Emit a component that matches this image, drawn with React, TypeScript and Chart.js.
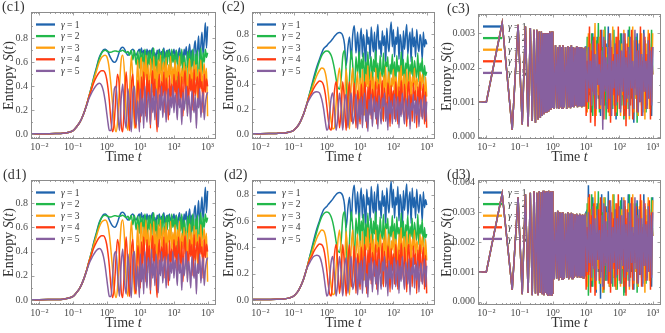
import React, { useEffect, useRef } from 'react';
import { Chart, registerables } from 'chart.js';

Chart.register(...registerables);

// ---------- time grids ----------
const TIME_A = [
  0.004, 0.01, 0.02, 0.03, 0.05, 0.07, 0.1, 0.13, 0.16, 0.2, 0.25, 0.3,
  0.35, 0.4, 0.5, 0.6, 0.7, 0.8, 0.9, 1.0,
  1.1, 1.2, 1.35, 1.5, 1.7, 1.9, 2.1, 2.4, 2.7, 3.0,
  3.4, 3.8, 4.3, 4.8, 5.4, 6.0, 6.7, 7.5, 8.4, 9.4,
  10, 10.8, 11.7, 12.6, 13.6, 14.7, 15.8, 17.1, 18.5, 20, 21.5, 23.3, 25.1, 27.1, 29.3, 31.6, 34.1, 36.8, 39.8, 42.9, 46.4, 50.1, 54.1, 58.4, 63.1, 68.1, 73.6, 79.4, 85.8, 92.6,
  100, 108, 117, 126, 136, 147, 158, 171, 185, 200, 215, 233, 251, 271, 293, 316, 341, 368, 398, 429, 464, 501, 541, 584, 631, 681, 736, 794, 858, 926,
  1000,
];

const TIME_B = [
  0.004, 0.01, 0.03, 0.06, 0.09, 0.12, 0.15, 0.18, 0.21, 0.24, 0.27, 0.3, 0.33, 0.36, 0.39, 0.42, 0.45, 0.48, 0.51, 0.54, 0.57, 0.6, 0.63, 0.66, 0.69, 0.72, 0.75, 0.78, 0.81, 0.84, 0.87, 0.9, 0.93, 0.96, 0.99,
  1.0, 1.1, 1.2, 1.3, 1.4, 1.5, 1.6, 1.7, 1.8, 1.9, 2.0, 2.2, 2.4, 2.6, 2.8, 3.0, 3.2, 3.4, 3.6, 3.8, 4.0, 4.3, 4.6, 4.9, 5.2, 5.5, 5.8, 6.1, 6.4, 6.7, 7.0, 7.4, 7.8, 8.2, 8.6, 9.0, 9.5,
  10, 10.8, 11.7, 12.6, 13.6, 14.7, 15.8, 17.1, 18.5, 20, 21.5, 23.3, 25.1, 27.1, 29.3, 31.6, 34.1, 36.8, 39.8, 42.9, 46.4, 50.1, 54.1, 58.4, 63.1, 68.1, 73.6, 79.4, 85.8, 92.6,
  100, 108, 117, 126, 136, 147, 158, 171, 185, 200, 215, 233, 251, 271, 293, 316, 341, 368, 398, 429, 464, 501, 541, 584, 631, 681, 736, 794, 858, 926,
  1000,
];

// ---------- panel c1 / d1 ----------
const C1_G1 = [
  0.003, 0.003, 0.004, 0.005, 0.007, 0.014, 0.03, 0.065, 0.1, 0.16, 0.24, 0.32,
  0.39, 0.46, 0.56, 0.64, 0.68, 0.705, 0.71, 0.70,
  0.685, 0.66, 0.63, 0.61, 0.60, 0.61, 0.64, 0.69, 0.72, 0.725,
  0.71, 0.68, 0.66, 0.67, 0.70, 0.71, 0.68, 0.66, 0.69, 0.71,
  0.67, 0.72, 0.65, 0.70, 0.68, 0.63, 0.71, 0.66, 0.70, 0.64, 0.69, 0.72, 0.65, 0.68, 0.62, 0.70, 0.67, 0.71, 0.64, 0.69, 0.66, 0.72, 0.63, 0.68, 0.70, 0.65, 0.71, 0.62, 0.69, 0.67,
  0.71, 0.64, 0.70, 0.60, 0.68, 0.72, 0.63, 0.69, 0.58, 0.71, 0.66, 0.73, 0.61, 0.68, 0.75, 0.62, 0.70, 0.57, 0.72, 0.78, 0.64, 0.70, 0.82, 0.60, 0.74, 0.85, 0.66, 0.78, 0.93, 0.72,
  0.90,
];
const C1_G2 = [
  0.003, 0.003, 0.004, 0.005, 0.007, 0.014, 0.03, 0.065, 0.1, 0.16, 0.24, 0.32,
  0.39, 0.45, 0.55, 0.63, 0.675, 0.695, 0.70, 0.695,
  0.69, 0.685, 0.685, 0.69, 0.695, 0.695, 0.69, 0.69, 0.695, 0.70,
  0.69, 0.68, 0.69, 0.66, 0.70, 0.62, 0.70, 0.58, 0.69, 0.55,
  0.70, 0.60, 0.68, 0.52, 0.71, 0.64, 0.45, 0.69, 0.58, 0.70, 0.50, 0.67, 0.72, 0.56, 0.66, 0.40, 0.70, 0.61, 0.68, 0.53, 0.71, 0.63, 0.48, 0.69, 0.58, 0.70, 0.66, 0.52, 0.71, 0.60,
  0.67, 0.55, 0.70, 0.62, 0.30, 0.68, 0.57, 0.71, 0.45, 0.66, 0.60, 0.25, 0.69, 0.55, 0.70, 0.48, 0.64, 0.71, 0.35, 0.67, 0.58, 0.70, 0.22, 0.62, 0.72, 0.50, 0.68, 0.60, 0.71, 0.64,
  0.68,
];
const C1_G3 = [
  0.003, 0.003, 0.004, 0.005, 0.007, 0.014, 0.03, 0.065, 0.1, 0.16, 0.24, 0.32,
  0.38, 0.44, 0.53, 0.60, 0.64, 0.655, 0.66, 0.65,
  0.61, 0.54, 0.40, 0.25, 0.08, 0.02, 0.10, 0.40, 0.62, 0.66,
  0.50, 0.15, 0.03, 0.35, 0.65, 0.45, 0.05, 0.30, 0.62, 0.20,
  0.55, 0.64, 0.32, 0.60, 0.45, 0.66, 0.38, 0.58, 0.22, 0.63, 0.50, 0.35, 0.65, 0.42, 0.57, 0.30, 0.62, 0.48, 0.66, 0.36, 0.55, 0.60, 0.40, 0.64, 0.33, 0.58, 0.47, 0.65, 0.38, 0.56,
  0.45, 0.62, 0.35, 0.58, 0.48, 0.65, 0.30, 0.55, 0.42, 0.60, 0.38, 0.57, 0.18, 0.52, 0.63, 0.40, 0.56, 0.34, 0.61, 0.45, 0.58, 0.28, 0.54, 0.47, 0.62, 0.36, 0.50, 0.59, 0.42, 0.55,
  0.15,
];
const C1_G4 = [
  0.003, 0.003, 0.004, 0.005, 0.007, 0.014, 0.03, 0.065, 0.1, 0.16, 0.24, 0.315,
  0.37, 0.42, 0.48, 0.515, 0.53, 0.53, 0.51, 0.46,
  0.38, 0.28, 0.10, 0.02, 0.12, 0.35, 0.50, 0.38, 0.08, 0.02,
  0.30, 0.52, 0.25, 0.03, 0.40, 0.50, 0.15, 0.05, 0.45, 0.30,
  0.10, 0.48, 0.25, 0.52, 0.35, 0.15, 0.50, 0.30, 0.45, 0.05, 0.40, 0.53, 0.28, 0.46, 0.20, 0.02, 0.38, 0.50, 0.25, 0.44, 0.32, 0.52, 0.18, 0.47, 0.36, 0.12, 0.49, 0.30, 0.42, 0.26,
  0.50, 0.34, 0.45, 0.22, 0.52, 0.38, 0.28, 0.48, 0.15, 0.44, 0.53, 0.30, 0.40, 0.25, 0.50, 0.36, 0.46, 0.20, 0.54, 0.32, 0.42, 0.48, 0.27, 0.52, 0.38, 0.44, 0.18, 0.50, 0.35, 0.46,
  0.40,
];
const C1_G5 = [
  0.003, 0.003, 0.004, 0.005, 0.007, 0.014, 0.03, 0.065, 0.1, 0.16, 0.235, 0.30,
  0.34, 0.37, 0.41, 0.425, 0.41, 0.36, 0.28, 0.18,
  0.09, 0.03, 0.03, 0.20, 0.38, 0.40, 0.22, 0.03, 0.30, 0.42,
  0.15, 0.05, 0.38, 0.20, 0.02, 0.35, 0.40, 0.08, 0.28, 0.02,
  0.38, 0.15, 0.30, 0.05, 0.40, 0.22, 0.10, 0.35, 0.28, 0.08, 0.42, 0.18, 0.32, 0.12, 0.38, 0.25, 0.06, 0.33, 0.20, 0.40, 0.14, 0.29, 0.36, 0.10, 0.27, 0.38, 0.16, 0.31, 0.22, 0.40,
  0.18, 0.34, 0.25, 0.12, 0.38, 0.22, 0.30, 0.08, 0.35, 0.20, 0.28, 0.40, 0.15, 0.32, 0.24, 0.10, 0.36, 0.26, 0.18, 0.33, 0.05, 0.30, 0.22, 0.38, 0.14, 0.28, 0.35, 0.12, 0.25, 0.32,
  0.35,
];

// ---------- panel c2 / d2 ----------
const C2_G1 = [
  0.003, 0.003, 0.004, 0.005, 0.007, 0.014, 0.03, 0.06, 0.1, 0.16, 0.24, 0.32,
  0.39, 0.45, 0.54, 0.60, 0.65, 0.685, 0.70, 0.71,
  0.725, 0.735, 0.75, 0.765, 0.785, 0.80, 0.81, 0.815, 0.81, 0.79,
  0.72, 0.55, 0.70, 0.78, 0.60, 0.80, 0.87, 0.65, 0.82, 0.58,
  0.76, 0.85, 0.62, 0.80, 0.70, 0.55, 0.84, 0.72, 0.78, 0.60, 0.86, 0.74, 0.66, 0.82, 0.58, 0.78, 0.88, 0.68, 0.75, 0.62, 0.83, 0.71, 0.79, 0.56, 0.85, 0.73, 0.66, 0.81, 0.90, 0.70,
  0.84, 0.62, 0.78, 0.72, 0.86, 0.60, 0.80, 0.74, 0.55, 0.83, 0.68, 0.79, 0.88, 0.64, 0.76, 0.82, 0.58, 0.85, 0.70, 0.78, 0.62, 0.84, 0.72, 0.66, 0.80, 0.75, 0.60, 0.82, 0.70, 0.76,
  0.72,
];
const C2_G2 = [
  0.003, 0.003, 0.004, 0.005, 0.007, 0.014, 0.03, 0.06, 0.1, 0.16, 0.24, 0.32,
  0.38, 0.43, 0.52, 0.585, 0.63, 0.653, 0.665, 0.667,
  0.665, 0.655, 0.63, 0.59, 0.52, 0.44, 0.38, 0.36, 0.45, 0.62,
  0.67, 0.50, 0.15, 0.45, 0.67, 0.55, 0.30, 0.62, 0.48, 0.66,
  0.40, 0.60, 0.52, 0.65, 0.35, 0.58, 0.47, 0.66, 0.42, 0.55, 0.62, 0.38, 0.60, 0.50, 0.67, 0.44, 0.57, 0.36, 0.63, 0.52, 0.46, 0.65, 0.40, 0.58, 0.54, 0.62, 0.33, 0.56, 0.48, 0.64,
  0.45, 0.58, 0.38, 0.63, 0.50, 0.55, 0.42, 0.66, 0.47, 0.60, 0.35, 0.57, 0.52, 0.64, 0.40, 0.56, 0.48, 0.62, 0.37, 0.59, 0.51, 0.45, 0.65, 0.42, 0.57, 0.50, 0.61, 0.39, 0.55, 0.47,
  0.50,
];
const C2_G3 = [
  0.003, 0.003, 0.004, 0.005, 0.007, 0.014, 0.03, 0.06, 0.1, 0.16, 0.24, 0.31,
  0.35, 0.40, 0.47, 0.51, 0.53, 0.525, 0.49, 0.42,
  0.33, 0.23, 0.10, 0.04, 0.05, 0.25, 0.42, 0.53, 0.35, 0.05,
  0.25, 0.52, 0.30, 0.04, 0.40, 0.53, 0.15, 0.35, 0.50, 0.10,
  0.45, 0.25, 0.52, 0.32, 0.15, 0.48, 0.38, 0.55, 0.22, 0.42, 0.50, 0.30, 0.46, 0.18, 0.53, 0.36, 0.44, 0.27, 0.50, 0.40, 0.12, 0.47, 0.34, 0.54, 0.28, 0.43, 0.50, 0.20, 0.45, 0.38,
  0.52, 0.30, 0.46, 0.40, 0.22, 0.50, 0.36, 0.55, 0.28, 0.44, 0.48, 0.18, 0.52, 0.34, 0.42, 0.50, 0.26, 0.46, 0.38, 0.53, 0.30, 0.45, 0.40, 0.24, 0.50, 0.35, 0.48, 0.42, 0.28, 0.46,
  0.30,
];
const C2_G4 = [
  0.003, 0.003, 0.004, 0.005, 0.007, 0.014, 0.03, 0.06, 0.1, 0.16, 0.24, 0.30,
  0.33, 0.365, 0.405, 0.425, 0.42, 0.39, 0.32, 0.22,
  0.12, 0.05, 0.03, 0.15, 0.35, 0.42, 0.30, 0.05, 0.20, 0.42,
  0.25, 0.03, 0.30, 0.42, 0.10, 0.20, 0.41, 0.05, 0.35, 0.22,
  0.08, 0.40, 0.28, 0.15, 0.42, 0.33, 0.05, 0.38, 0.22, 0.43, 0.12, 0.36, 0.30, 0.18, 0.42, 0.08, 0.34, 0.40, 0.20, 0.28, 0.43, 0.10, 0.37, 0.25, 0.14, 0.41, 0.32, 0.06, 0.39, 0.22,
  0.35, 0.12, 0.42, 0.28, 0.08, 0.38, 0.20, 0.43, 0.30, 0.15, 0.40, 0.25, 0.06, 0.36, 0.42, 0.18, 0.32, 0.10, 0.41, 0.27, 0.35, 0.05, 0.38, 0.22, 0.42, 0.14, 0.30, 0.40, 0.08, 0.34,
  0.05,
];
const C2_G5 = [
  0.003, 0.003, 0.004, 0.005, 0.007, 0.014, 0.03, 0.06, 0.1, 0.16, 0.24, 0.28,
  0.31, 0.33, 0.34, 0.33, 0.28, 0.20, 0.10, 0.03,
  0.05, 0.15, 0.29, 0.33, 0.18, 0.03, 0.12, 0.33, 0.20, 0.03,
  0.25, 0.32, 0.05, 0.22, 0.33, 0.08, 0.15, 0.32, 0.04, 0.28,
  0.12, 0.30, 0.05, 0.24, 0.33, 0.10, 0.20, 0.02, 0.28, 0.15, 0.32, 0.06, 0.22, 0.30, 0.12, 0.26, 0.04, 0.31, 0.18, 0.08, 0.29, 0.22, 0.33, 0.10, 0.25, 0.03, 0.30, 0.16, 0.27, 0.08,
  0.24, 0.32, 0.10, 0.20, 0.30, 0.05, 0.26, 0.14, 0.33, 0.18, 0.08, 0.29, 0.22, 0.12, 0.31, 0.04, 0.25, 0.19, 0.32, 0.09, 0.27, 0.15, 0.30, 0.06, 0.23, 0.28, 0.12, 0.20, 0.31, 0.10,
  0.26,
];

// ---------- panel c3 (values in units of 0.001) ----------
const C3_EARLY = [
  1.0, 1.0, 3.3, 0.2, 3.25, 0.35, 3.2, 0.3, 3.15, 0.45, 3.1, 0.4, 3.1, 0.5, 3.05, 0.55, 3.05, 0.6, 3.0, 0.65, 3.0, 0.7, 3.0, 0.7, 3.0, 0.75, 3.0, 0.8, 3.05, 0.8, 3.0, 0.85, 3.05, 0.85, 3.05,
];
const C3_MID = [
  2.7, 0.8, 2.65, 0.82, 2.6, 0.8, 2.65, 0.85, 2.6, 0.82, 2.65, 0.85, 2.6, 0.8, 2.62, 0.85, 2.6, 0.82, 2.65, 0.88, 2.6, 0.85, 2.58, 0.9, 2.62, 0.85, 2.6, 0.88, 2.55, 0.9, 2.6, 0.85, 2.58, 0.9, 2.55, 0.88, 2.6,
];
const C3_LATE_G1 = [
  2.6, 0.9, 2.8, 1.2, 2.4, 0.7, 3.0, 1.5, 2.2, 0.8, 2.9, 1.1, 2.5, 0.6, 3.1, 1.4, 2.0, 0.9, 2.7, 1.3, 3.2, 0.7, 2.3, 1.6, 2.9, 1.0, 2.4, 0.5, 2.8, 1.2,
  2.1, 0.8, 3.0, 1.4, 2.6, 0.6, 2.2, 1.7, 3.1, 0.9, 2.5, 1.1, 2.8, 0.4, 2.3, 1.5, 3.0, 0.8, 2.7, 1.2, 2.0, 0.7, 3.1, 1.3, 2.5, 0.9, 2.9, 1.6, 2.2, 0.6, 2.6,
];
const C3_LATE_G2 = [
  1.1, 2.9, 0.8, 2.5, 1.4, 3.0, 0.6, 2.2, 1.0, 2.8, 1.3, 3.3, 0.7, 2.1, 1.6, 2.6, 0.9, 3.2, 0.5, 2.4, 1.2, 2.9, 1.5, 2.0, 0.8, 3.1, 1.1, 2.7, 0.6, 2.3,
  1.4, 3.0, 0.9, 2.4, 0.5, 2.8, 1.3, 2.2, 0.8, 3.2, 1.7, 2.6, 0.6, 2.1, 1.1, 2.9, 0.4, 2.5, 1.4, 3.0, 0.9, 2.3, 1.2, 2.8, 0.7, 2.0, 1.5, 2.7, 0.8, 3.1, 1.8,
];
const C3_LATE_G3 = [
  2.4, 0.7, 3.0, 1.3, 2.7, 0.9, 2.1, 1.6, 3.3, 0.6, 2.5, 1.2, 2.9, 0.8, 2.2, 0.5, 3.1, 1.4, 2.6, 1.0, 2.0, 0.6, 2.8, 1.3, 3.2, 0.9, 2.4, 0.7, 2.9, 1.5,
  2.3, 0.6, 2.7, 1.2, 3.1, 0.8, 2.5, 1.0, 2.9, 0.5, 2.2, 1.4, 3.2, 0.7, 2.6, 1.1, 2.0, 0.6, 2.8, 1.3, 3.0, 0.9, 2.4, 0.5, 2.7, 1.2, 3.1, 0.8, 2.3, 1.0, 3.0,
];
const C3_LATE_G4 = [
  0.6, 2.2, 1.0, 3.2, 0.4, 2.5, 1.3, 2.9, 0.3, 2.0, 1.5, 2.7, 0.8, 3.1, 1.1, 2.3, 0.5, 2.8, 1.4, 2.1, 0.7, 3.0, 0.4, 2.6, 1.2, 2.4, 0.6, 2.9, 1.0, 3.2,
  0.8, 2.5, 1.5, 2.2, 0.6, 3.0, 0.3, 2.7, 1.2, 2.4, 0.9, 3.1, 0.5, 2.0, 1.4, 2.8, 0.7, 2.5, 1.0, 3.2, 0.6, 2.2, 1.3, 2.9, 0.8, 2.4, 1.1, 3.0, 0.5, 2.6, 1.8,
];
const C3_LATE_G5 = [
  2.0, 1.0, 2.6, 1.4, 2.2, 0.9, 2.8, 1.2, 2.4, 0.8, 2.7, 1.5, 2.1, 0.9, 2.5, 0.2, 2.9, 1.3, 2.3, 0.8, 2.6, 1.1, 3.0, 0.6, 2.2, 1.4, 2.7, 0.9, 2.4, 1.2,
  2.8, 0.7, 2.5, 1.3, 3.0, 0.9, 2.3, 1.1, 2.6, 0.6, 2.9, 1.4, 2.2, 0.8, 3.1, 1.2, 2.5, 0.7, 2.7, 1.0, 2.4, 0.6, 3.0, 1.3, 2.2, 0.8, 2.8, 1.1, 2.5, 0.9, 2.6,
];

// ---------- panel d3 (values in units of 0.001) ----------
const D3_EARLY = [
  1.0, 1.0, 3.62, 0.4, 3.5, 0.25, 3.6, 0.3, 3.65, 0.22, 3.7, 0.28, 3.65, 0.22, 3.7, 0.3, 3.68, 0.25, 3.72, 0.22, 3.65, 0.3, 3.7, 0.25, 3.68, 0.22, 3.72, 0.3, 3.65, 0.25, 3.7, 0.22, 3.68, 0.28, 3.7,
];
const D3_MID = [
  3.05, 0.75, 3.0, 0.78, 3.05, 0.72, 3.0, 0.8, 2.98, 0.75, 3.0, 0.78, 2.95, 0.8, 3.0, 0.75, 2.95, 0.82, 2.98, 0.78, 2.95, 0.8, 2.92, 0.85, 2.95, 0.8, 2.9, 0.85, 2.95, 0.82, 2.9, 0.85, 2.92, 0.8, 2.9, 0.85, 2.95,
];
const D3_LATE_G1 = [
  3.0, 0.6, 3.9, 1.2, 2.8, 0.5, 3.5, 1.5, 2.4, 0.3, 3.3, 1.0, 2.9, 0.1, 3.6, 1.4, 2.6, 0.7, 3.2, 1.1, 3.7, 0.5, 2.7, 1.6, 3.4, 0.8, 2.5, 0.4, 3.1, 1.3,
  2.8, 0.6, 3.5, 1.2, 3.0, 0.3, 2.6, 1.8, 3.6, 0.7, 2.9, 1.0, 3.3, 0.4, 2.7, 1.5, 3.4, 0.5, 3.1, 1.1, 2.4, 0.6, 3.6, 1.2, 2.9, 0.8, 3.3, 1.4, 2.6, 0.5, 3.5,
];
const D3_LATE_G2 = [
  0.9, 3.3, 0.2, 3.0, 1.4, 3.6, 0.5, 2.6, 0.8, 3.2, 1.2, 3.7, 0.6, 2.4, 1.6, 3.0, 0.3, 3.5, 0.7, 2.8, 1.3, 3.3, 1.0, 2.3, 0.5, 3.6, 1.1, 3.1, 0.4, 2.7,
  1.5, 3.4, 0.6, 2.8, 0.2, 3.2, 1.2, 2.5, 0.7, 3.6, 1.6, 3.0, 0.5, 2.4, 1.0, 3.3, 0.3, 2.9, 1.3, 3.4, 0.8, 2.6, 1.1, 3.2, 0.6, 2.3, 1.4, 3.1, 0.7, 3.5, 2.2,
];
const D3_LATE_G3 = [
  2.8, 0.5, 3.5, 1.0, 3.1, 0.7, 2.5, 1.5, 3.7, 0.4, 2.9, 1.1, 3.3, 0.6, 2.6, 0.3, 3.5, 1.3, 3.0, 0.9, 2.4, 0.5, 3.2, 1.2, 3.6, 0.8, 2.7, 0.4, 3.3, 1.4,
  2.6, 0.5, 3.1, 1.1, 3.5, 0.7, 2.8, 0.9, 3.3, 0.4, 2.5, 1.3, 3.6, 0.6, 3.0, 1.0, 2.4, 0.5, 3.2, 1.2, 3.4, 0.8, 2.7, 0.3, 3.1, 1.1, 3.5, 0.7, 2.6, 0.9, 3.4,
];
const D3_LATE_G4 = [
  0.4, 2.5, 0.9, 3.6, 0.3, 2.9, 1.2, 3.3, 0.2, 2.3, 1.4, 3.1, 0.7, 3.5, 1.0, 2.6, 0.4, 3.2, 1.3, 2.4, 0.6, 3.4, 0.3, 3.0, 1.1, 2.8, 0.5, 3.3, 0.9, 3.6,
  0.7, 2.9, 1.4, 2.5, 0.5, 3.4, 0.2, 3.1, 1.1, 2.7, 0.8, 3.5, 0.4, 2.3, 1.3, 3.2, 0.6, 2.8, 0.9, 3.6, 0.5, 2.5, 1.2, 3.3, 0.7, 2.7, 1.0, 3.4, 0.4, 3.0, 2.2,
];
const D3_LATE_G5 = [
  2.3, 1.0, 3.0, 1.3, 2.6, 0.8, 3.2, 1.1, 2.8, 0.7, 3.1, 1.4, 2.4, 0.8, 2.9, 0.5, 3.3, 1.2, 2.7, 0.7, 3.0, 1.0, 3.4, 0.6, 2.5, 1.3, 3.1, 0.8, 2.8, 1.1,
  3.2, 0.6, 2.9, 1.2, 3.4, 0.8, 2.6, 1.0, 3.0, 0.5, 3.3, 1.3, 2.5, 0.7, 3.5, 1.1, 2.9, 0.6, 3.1, 0.9, 2.8, 0.5, 3.4, 1.2, 2.6, 0.7, 3.2, 1.0, 2.9, 0.8, 3.0,
];

// ---------- labels / ticks ----------
const SERIES_COLORS = ['#1f64ad', '#22b84b', '#ffa00f', '#ff3b12', '#87609f'];
const GAMMA_VALUES = ['1', '2', '3', '4', '5'];
const X_TICKS = [0.01, 0.1, 1, 10, 100, 1000];
const X_TICK_LABELS = ['10⁻²', '10⁻¹', '10⁰', '10¹', '10²', '10³'];
const Y_TICKS_S = [0, 0.2, 0.4, 0.6, 0.8];
const Y_LABELS_S = ['0.0', '0.2', '0.4', '0.6', '0.8'];
const Y_MINOR_S = [0.1, 0.3, 0.5, 0.7, 0.9];
const Y_TICKS_C3 = [0, 1, 2, 3];
const Y_LABELS_C3 = ['0.000', '0.001', '0.002', '0.003'];
const Y_TICKS_D3 = [0, 1, 2, 3, 4];
const Y_LABELS_D3 = ['0.000', '0.001', '0.002', '0.003', '0.004'];
const Y_MINOR_M = [0.5, 1.5, 2.5, 3.5];

const FONT = '"Liberation Serif", "DejaVu Serif", serif';
const FRAME_COLOR = '#8c8c8c';
const TEXT_COLOR = '#333333';
const TICK_COLOR = '#4a4a4a';
const W = 665;
const H = 333;
const YW = 28;
const XH = 20;

type Frame = { l: number; t: number; r: number; b: number };
type Panel = {
  id: string;
  tag: string;
  tagX: number;
  yTitleX: number;
  time: number[];
  series: number[][];
  yMin: number;
  yMax: number;
  yTicks: number[];
  yLabels: string[];
  yMinor: number[];
  frame: Frame;
  smooth: boolean;
};

const PANELS: Panel[] = [
  { id: 'c1', tag: '(c1)', tagX: 2, yTitleX: 9, time: TIME_A, series: [C1_G1, C1_G2, C1_G3, C1_G4, C1_G5], yMin: -0.04, yMax: 1.02, yTicks: Y_TICKS_S, yLabels: Y_LABELS_S, yMinor: Y_MINOR_S, frame: { l: 31, t: 12, r: 216, b: 139 }, smooth: true },
  { id: 'c2', tag: '(c2)', tagX: 222, yTitleX: 229, time: TIME_A, series: [C2_G1, C2_G2, C2_G3, C2_G4, C2_G5], yMin: -0.04, yMax: 0.98, yTicks: Y_TICKS_S, yLabels: Y_LABELS_S, yMinor: Y_MINOR_S, frame: { l: 252, t: 12, r: 435, b: 139 }, smooth: true },
  { id: 'c3', tag: '(c3)', tagX: 447, yTitleX: 447, time: TIME_B, series: [C3_EARLY.concat(C3_MID, C3_LATE_G1), C3_EARLY.concat(C3_MID, C3_LATE_G2), C3_EARLY.concat(C3_MID, C3_LATE_G3), C3_EARLY.concat(C3_MID, C3_LATE_G4), C3_EARLY.concat(C3_MID, C3_LATE_G5)], yMin: -0.07, yMax: 3.56, yTicks: Y_TICKS_C3, yLabels: Y_LABELS_C3, yMinor: Y_MINOR_M, frame: { l: 478, t: 14, r: 661, b: 139 }, smooth: false },
  { id: 'd1', tag: '(d1)', tagX: 3, yTitleX: 9, time: TIME_A, series: [C1_G1, C1_G2, C1_G3, C1_G4, C1_G5], yMin: -0.041, yMax: 0.99, yTicks: Y_TICKS_S, yLabels: Y_LABELS_S, yMinor: Y_MINOR_S, frame: { l: 31, t: 180, r: 216, b: 305 }, smooth: true },
  { id: 'd2', tag: '(d2)', tagX: 224, yTitleX: 229, time: TIME_A, series: [C2_G1, C2_G2, C2_G3, C2_G4, C2_G5], yMin: -0.038, yMax: 0.91, yTicks: Y_TICKS_S, yLabels: Y_LABELS_S, yMinor: Y_MINOR_S, frame: { l: 252, t: 180, r: 435, b: 305 }, smooth: true },
  { id: 'd3', tag: '(d3)', tagX: 447, yTitleX: 447, time: TIME_B, series: [D3_EARLY.concat(D3_MID, D3_LATE_G1), D3_EARLY.concat(D3_MID, D3_LATE_G2), D3_EARLY.concat(D3_MID, D3_LATE_G3), D3_EARLY.concat(D3_MID, D3_LATE_G4), D3_EARLY.concat(D3_MID, D3_LATE_G5)], yMin: -0.11, yMax: 4.08, yTicks: Y_TICKS_D3, yLabels: Y_LABELS_D3, yMinor: Y_MINOR_M, frame: { l: 478, t: 180, r: 661, b: 305 }, smooth: false },
];

type Part = [string, boolean];

function drawParts(ctx: CanvasRenderingContext2D, parts: Part[], x: number, y: number, size: number, align: 'center' | 'left') {
  const fonts = parts.map(([, it]) => `${it ? 'italic ' : ''}${size}px ${FONT}`);
  let total = 0;
  const widths = parts.map(([t], i) => {
    ctx.font = fonts[i];
    const w = ctx.measureText(t).width;
    total += w;
    return w;
  });
  let cx = align === 'center' ? x - total / 2 : x;
  ctx.textAlign = 'left';
  parts.forEach(([t], i) => {
    ctx.font = fonts[i];
    ctx.fillText(t, cx, y);
    cx += widths[i];
  });
}

function decorPlugin(p: Panel) {
  return {
    id: 'decor_' + p.id,
    beforeDatasetsDraw(chart: any) {
      const ctx: CanvasRenderingContext2D = chart.ctx;
      const ca = chart.chartArea;
      ctx.save();
      GAMMA_VALUES.forEach((g, i) => {
        const y = ca.top + 12.5 + i * 11.6;
        ctx.strokeStyle = SERIES_COLORS[i];
        ctx.lineWidth = 2.3;
        ctx.beginPath();
        ctx.moveTo(ca.left + 5, y);
        ctx.lineTo(ca.left + 24, y);
        ctx.stroke();
        ctx.fillStyle = TEXT_COLOR;
        ctx.textBaseline = 'middle';
        drawParts(ctx, [['γ', true], [' = ' + g, false]], ca.left + 30, y + 0.5, 9.5, 'left');
      });
      ctx.restore();
    },
    afterDraw(chart: any) {
      const ctx: CanvasRenderingContext2D = chart.ctx;
      const ca = chart.chartArea;
      const xs = chart.scales.x;
      const ys = chart.scales.y;
      ctx.save();
      ctx.strokeStyle = FRAME_COLOR;
      ctx.lineWidth = 1;
      ctx.strokeRect(ca.left + 0.5, ca.top + 0.5, ca.right - ca.left - 1, ca.bottom - ca.top - 1);
      const tick = (x1: number, y1: number, x2: number, y2: number) => {
        ctx.beginPath();
        ctx.moveTo(x1, y1);
        ctx.lineTo(x2, y2);
        ctx.stroke();
      };
      ctx.lineWidth = 0.8;
      X_TICKS.forEach((v) => {
        const px = Math.round(xs.getPixelForValue(v)) + 0.5;
        tick(px, ca.bottom, px, ca.bottom - 3.5);
        tick(px, ca.top, px, ca.top + 3.5);
      });
      for (let k = -3; k <= 3; k++) {
        for (let m = 2; m <= 9; m++) {
          const v = m * Math.pow(10, k);
          if (v <= xs.min || v >= xs.max) continue;
          const px = Math.round(xs.getPixelForValue(v)) + 0.5;
          tick(px, ca.bottom, px, ca.bottom - 2);
          tick(px, ca.top, px, ca.top + 2);
        }
      }
      p.yTicks.forEach((v) => {
        const py = Math.round(ys.getPixelForValue(v)) + 0.5;
        tick(ca.left, py, ca.left + 3.5, py);
        tick(ca.right, py, ca.right - 3.5, py);
      });
      p.yMinor.forEach((v) => {
        if (v <= p.yMin || v >= p.yMax) return;
        const py = Math.round(ys.getPixelForValue(v)) + 0.5;
        tick(ca.left, py, ca.left + 2, py);
        tick(ca.right, py, ca.right - 2, py);
      });
      ctx.fillStyle = TEXT_COLOR;
      ctx.textBaseline = 'alphabetic';
      drawParts(ctx, [['Time ', false], ['t', true]], (ca.left + ca.right) / 2, ca.bottom + 22, 14, 'center');
      ctx.save();
      ctx.translate(p.yTitleX, (ca.top + ca.bottom) / 2);
      ctx.rotate(-Math.PI / 2);
      ctx.textBaseline = 'middle';
      drawParts(ctx, [['Entropy ', false], ['S', true], ['(', false], ['t', true], [')', false]], 0, 0, 14, 'center');
      ctx.restore();
      ctx.textBaseline = 'alphabetic';
      drawParts(ctx, [[p.tag, false]], p.tagX, ca.top - 1, 14, 'left');
      ctx.restore();
    },
  };
}

function buildConfig(p: Panel): any {
  const datasets = p.series.map((vals, i) => ({
    label: 'γ = ' + GAMMA_VALUES[i],
    data: vals.map((v, k) => ({ x: p.time[k], y: v })),
    borderColor: SERIES_COLORS[i],
    backgroundColor: SERIES_COLORS[i],
    borderWidth: 1.5,
    pointRadius: 0,
    fill: false,
    cubicInterpolationMode: p.smooth ? 'monotone' : 'default',
    tension: 0,
    order: 4 - i,
  }));
  const f = p.frame;
  return {
    type: 'line',
    data: { datasets },
    options: {
      responsive: false,
      animation: false,
      devicePixelRatio: 1,
      events: [],
      layout: {
        padding: { left: f.l - YW, top: f.t, right: W - f.r, bottom: H - f.b - XH },
      },
      plugins: { legend: { display: false }, tooltip: { enabled: false }, title: { display: false } },
      scales: {
        x: {
          type: 'logarithmic',
          min: Math.pow(10, -2.25),
          max: Math.pow(10, 3.25),
          afterBuildTicks: (s: any) => {
            s.ticks = X_TICKS.map((v) => ({ value: v }));
          },
          afterFit: (s: any) => {
            s.height = XH;
          },
          ticks: {
            autoSkip: false,
            maxRotation: 0,
            padding: 2,
            color: TICK_COLOR,
            font: { family: FONT, size: 10 },
            callback: (_v: any, idx: number) => X_TICK_LABELS[idx],
          },
          grid: { display: false, drawTicks: false },
          border: { display: false },
        },
        y: {
          type: 'linear',
          min: p.yMin,
          max: p.yMax,
          afterBuildTicks: (s: any) => {
            s.ticks = p.yTicks.map((v) => ({ value: v }));
          },
          afterFit: (s: any) => {
            s.width = YW;
          },
          ticks: {
            autoSkip: false,
            padding: 3,
            color: TICK_COLOR,
            font: { family: FONT, size: 10 },
            callback: (_v: any, idx: number) => p.yLabels[idx],
          },
          grid: { display: false, drawTicks: false },
          border: { display: false },
        },
      },
    },
    plugins: [decorPlugin(p)],
  };
}

function PanelChart({ p }: { p: Panel }) {
  const ref = useRef<HTMLCanvasElement | null>(null);
  useEffect(() => {
    if (!ref.current) return;
    const chart = new Chart(ref.current, buildConfig(p));
    return () => chart.destroy();
  }, [p]);
  return (
    <canvas
      ref={ref}
      width={W}
      height={H}
      style={{ position: 'absolute', left: 0, top: 0, width: W, height: H }}
    />
  );
}

export default function App() {
  return (
    <div style={{ position: 'fixed', left: 0, top: 0, width: W, height: H, background: '#ffffff', overflow: 'hidden' }}>
      {PANELS.map((p) => (
        <PanelChart key={p.id} p={p} />
      ))}
    </div>
  );
}
